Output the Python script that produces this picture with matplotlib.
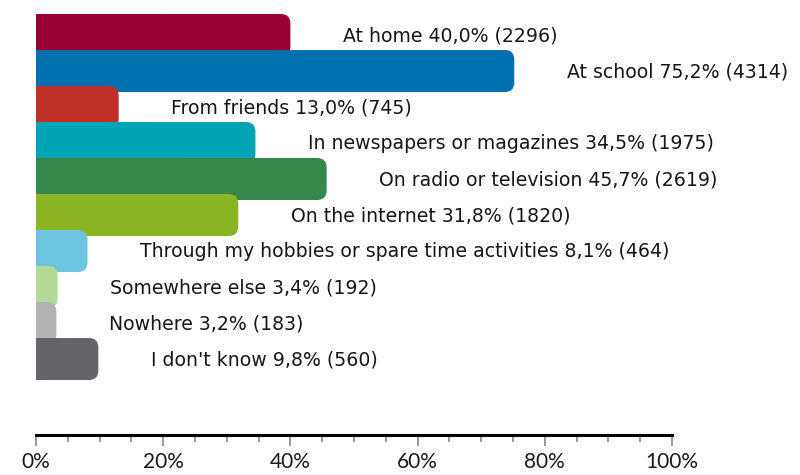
import matplotlib.pyplot as plt
from matplotlib.patches import FancyBboxPatch
from matplotlib.ticker import MultipleLocator, FuncFormatter

# Where pupils get their information
labels = ['At home', 'At school', 'From friends', 'In newspapers or magazines',
          'On radio or television', 'On the internet',
          'Through my hobbies or spare time activities', 'Somewhere else',
          'Nowhere', "I don't know"]
percent = [40.0, 75.2, 13.0, 34.5, 45.7, 31.8, 8.1, 3.4, 3.2, 9.8]
counts = [2296, 4314, 745, 1975, 2619, 1820, 464, 192, 183, 560]
colors = ['#990033', '#0070ae', '#c0302a', '#00a4b5', '#35874b',
          '#8cb524', '#6cc4e0', '#b3d996', '#b3b3b3', '#626469']

fig = plt.figure(figsize=(8, 4.75), dpi=100)
ax = fig.add_axes([0.045, 0.0842, 0.795, 0.8863])

bar_h = 1.1667   # bars overlap their neighbours a little
ax.set_xlim(0, 100)
ax.set_ylim(11.694, 0)

for i, (lab, p, c, col) in enumerate(zip(labels, percent, counts, colors)):
    z = 2 + i
    # rounded right end
    box = FancyBboxPatch((0, i), p, bar_h,
                         boxstyle='round,pad=0,rounding_size=1.5',
                         mutation_aspect=6.36 / 36,
                         fc=col, ec='none', zorder=z)
    ax.add_patch(box)
    # square left end
    ax.barh(i + bar_h / 2, p / 2, height=bar_h, left=0, color=col,
            zorder=z, linewidth=0)
    pct = f'{p:.1f}'.replace('.', ',')
    ax.text(p + 8.3, i + bar_h / 2 + 0.02, f'{lab} {pct}% ({c})',
            va='center', ha='left', fontsize=13.6, color='#161616',
            family='DejaVu Sans', zorder=20)

for s in ['top', 'right', 'left']:
    ax.spines[s].set_visible(False)
ax.spines['bottom'].set_linewidth(2.2)
ax.spines['bottom'].set_color('black')
ax.spines['bottom'].set_bounds(0, 100)
ax.set_yticks([])

ax.xaxis.set_major_locator(MultipleLocator(20))
ax.xaxis.set_minor_locator(MultipleLocator(5))
ax.xaxis.set_major_formatter(FuncFormatter(lambda v, _: f'{v:.0f}%'))
ax.tick_params(axis='x', which='major', length=8, width=1.2, color='#8a8a8a',
               pad=4, labelsize=15, labelcolor='#1a1a1a')
ax.tick_params(axis='x', which='minor', length=5, width=1.2, color='#8a8a8a')
for t in ax.get_xticklabels():
    t.set_family('Lato')

fig.savefig('out.png', dpi=100)
